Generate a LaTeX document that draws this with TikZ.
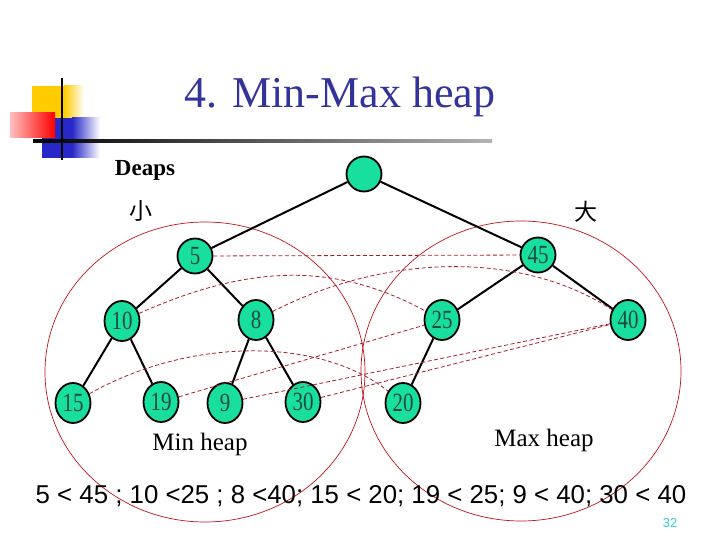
\documentclass[tikz,border=0pt]{standalone}
\usepackage{graphicx}
\usepackage{fontspec}
\setmainfont{Liberation Serif}
\setsansfont{Liberation Sans}
\newfontfamily\cjk{Noto Sans CJK SC}
\usetikzlibrary{shapes.geometric}
\newcommand{\tallnum}[1]{\scalebox{1}[1.25]{#1}}
\definecolor{nodefill}{RGB}{24,222,158}
\definecolor{nodetext}{RGB}{30,75,65}
\definecolor{titleblue}{RGB}{51,51,153}
\definecolor{dashred}{RGB}{165,30,45}
\definecolor{circred}{RGB}{190,20,30}
\definecolor{pagenum}{RGB}{51,204,204}
\definecolor{logoyellow}{RGB}{255,204,0}
\definecolor{logoblue}{RGB}{40,40,200}
\definecolor{logored}{RGB}{255,0,0}
\tikzset{
  hnode/.style={ellipse, draw=black, line width=1.8pt, fill=nodefill, text=nodetext,
    inner sep=0pt, minimum width=35pt, minimum height=35pt, font=\fontsize{21}{21}\selectfont},
  lownode/.style={hnode, minimum height=40pt},
  treeedge/.style={line width=2pt, black},
  pair/.style={dashred, line width=0.8pt, dash pattern=on 4pt off 2.5pt},
  zone/.style={circred, line width=0.7pt},
}
\begin{document}
\begin{tikzpicture}[x=1pt,y=-1pt]
\useasboundingbox (0,0) rectangle (720,540);

% logo
\fill[logoyellow] (32,86) rectangle (64,125);
\shade[left color=logoyellow, right color=white] (64,86) rectangle (84,125);
\fill[logoblue] (42,118) rectangle (72,158);
\shade[left color=logoblue, right color=white] (72,118) rectangle (100,158);
\shade[left color=logored!25, right color=logored] (10,113) rectangle (55,138);
\shade[left color=black, right color=gray!60] (33,139.8) rectangle (492,142.4);
\draw[line width=2.5pt] (62,78) -- (62,160);

% title
\node[font=\fontsize{44}{44}\selectfont, text=titleblue, anchor=base, inner sep=0pt] (title) at (340,108) {4. Min-Max heap};
\node[font=\bfseries\fontsize{23}{23}\selectfont, anchor=base, inner sep=0pt] (deaps) at (145,176) {Deaps};
\node[font=\cjk\fontsize{23}{23}\selectfont, inner sep=0pt] (small) at (141,211) {小};
\node[font=\cjk\fontsize{23}{23}\selectfont, inner sep=0pt] (big) at (586,212) {大};

% zones
\draw[zone] (205,372) ellipse [x radius=160pt, y radius=150pt];
\draw[zone] (521,371) ellipse [x radius=160pt, y radius=150pt];

% nodes
\node[hnode] (r) at (364,174) {};
\node[hnode] (n5) at (195,256) {\tallnum{5}};
\node[hnode] (n45) at (538,255) {\tallnum{45}};
\node[lownode] (n10) at (122,321) {\tallnum{10}};
\node[lownode] (n8) at (256,320) {\tallnum{8}};
\node[lownode] (n25) at (442,320) {\tallnum{25}};
\node[lownode] (n40) at (628,320) {\tallnum{40}};
\node[lownode] (n15) at (73,403) {\tallnum{15}};
\node[lownode] (n19) at (161,402) {\tallnum{19}};
\node[lownode] (n9) at (225,403) {\raisebox{-4pt}{\tallnum{9}}};
\node[lownode] (n30) at (303,402) {\tallnum{30}};
\node[lownode] (n20) at (403,403) {\tallnum{20}};

% tree edges
\draw[treeedge] (r) -- (n5);
\draw[treeedge] (r) -- (n45);
\draw[treeedge] (n5) -- (n10);
\draw[treeedge] (n5) -- (n8);
\draw[treeedge] (n45) -- (n25);
\draw[treeedge] (n45) -- (n40);
\draw[treeedge] (n10) -- (n15);
\draw[treeedge] (n10) -- (n19);
\draw[treeedge] (n8) -- (n9);
\draw[treeedge] (n8) -- (n30);
\draw[treeedge] (n25) -- (n20);

% pairing lines
\draw[pair] (n5) -- (n45);
\draw[pair] (n10) .. controls (250,264) and (335,262) .. (n25);
\draw[pair] (n8) .. controls (385,254) and (520,250) .. (n40);
\draw[pair] (n15) .. controls (190,337) and (320,337) .. (n20);
\draw[pair] (n19) -- (n25);
\draw[pair] (n9) -- (n40);
\draw[pair] (n30) -- (n40);

% captions
\node[font=\fontsize{25}{25}\selectfont, anchor=base, inner sep=0pt] (minh) at (200,450) {Min heap};
\node[font=\fontsize{25}{25}\selectfont, anchor=base, inner sep=0pt] (maxh) at (544,446) {Max heap};
\node[font=\sffamily\fontsize{25.8}{26}\selectfont, anchor=base, inner sep=0pt] (rel) at (361,503) {5 < 45 ; 10 <25 ; 8 <40; 15 < 20; 19 < 25; 9 < 40; 30 < 40};
\node[font=\sffamily\fontsize{13}{13}\selectfont, text=pagenum, anchor=base, inner sep=0pt] (pg) at (670,527) {32};
\end{tikzpicture}
\end{document}
